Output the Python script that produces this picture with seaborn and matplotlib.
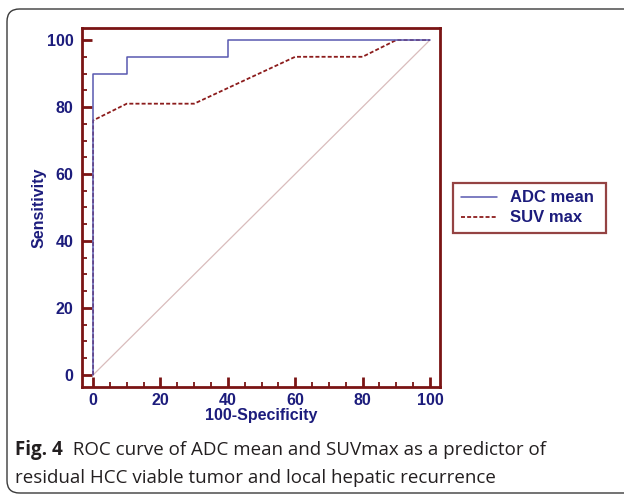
import numpy as np
import pandas as pd
import matplotlib
matplotlib.use('Agg')
import matplotlib.pyplot as plt
import seaborn as sns
from matplotlib.patches import FancyBboxPatch
from matplotlib.ticker import MultipleLocator

# ROC points (100-specificity, sensitivity)
adc_fpr = [0, 0, 10, 10, 40, 40, 100]
adc_sens = [0, 90, 90, 95, 95, 100, 100]
suv_fpr = [0, 0, 10, 30, 60, 80, 90, 100]
suv_sens = [0, 76, 81, 81, 95, 95, 100, 100]
ref_line = [0, 100]

series_names = ['ADC mean', 'SUV max']
caption_bold = 'Fig. 4'
caption_rest = '  ROC curve of ADC mean and SUVmax as a predictor of'
caption_line2 = 'residual HCC viable tumor and local hepatic recurrence'

axis_red = '#7a1414'
navy = '#1c1c7c'

sns.set_style('white')
plt.rcParams['font.family'] = ['Liberation Sans', 'DejaVu Sans']

fig = plt.figure(figsize=(6.24, 4.96), dpi=100)
W, H = 624, 496

# outer rounded frame of the figure panel
frame = FancyBboxPatch((7 / W, 3 / H), 640 / W, 484 / H,
                       boxstyle='round,pad=0,rounding_size=0.02',
                       transform=fig.transFigure, fill=False,
                       edgecolor='#3a3a3a', linewidth=1.0, mutation_aspect=W / H)
fig.patches.append(frame)

ax = fig.add_axes([82 / W, 109 / H, 358 / W, 359 / H])

sns.lineplot(x=ref_line, y=ref_line, ax=ax, color='#d9bcbc', linewidth=0.9,
             sort=False, estimator=None)
sns.lineplot(x=suv_fpr, y=suv_sens, ax=ax, color='#8c1c1c', linewidth=1.3,
             linestyle=(0, (2.2, 1.2)), sort=False, estimator=None,
             label=series_names[1])
sns.lineplot(x=adc_fpr, y=adc_sens, ax=ax, color='#5858b0', linewidth=1.1,
             sort=False, estimator=None, label=series_names[0])

ax.set_xlim(-3.3, 103.0)
ax.set_ylim(-3.6, 103.6)

for s in ax.spines.values():
    s.set_visible(True)
    s.set_color(axis_red)
    s.set_linewidth(2.0)

ax.xaxis.set_major_locator(MultipleLocator(20))
ax.yaxis.set_major_locator(MultipleLocator(20))
ax.xaxis.set_minor_locator(MultipleLocator(5))
ax.yaxis.set_minor_locator(MultipleLocator(5))
ax.tick_params(which='both', direction='in', color=axis_red,
               bottom=True, left=True, top=False, right=False)
ax.tick_params(which='major', length=7.5, width=2.0)
ax.tick_params(which='minor', length=3.8, width=1.3)
ax.tick_params(axis='y', which='major', pad=6)
ax.tick_params(axis='x', which='major', pad=4)
for lab in ax.get_xticklabels() + ax.get_yticklabels():
    lab.set_fontweight('bold')
    lab.set_fontsize(11.5)
    lab.set_color(navy)

ax.set_xlabel('100-Specificity', fontsize=11.5, fontweight='bold', color=navy, labelpad=0)
ax.set_ylabel('Sensitivity', fontsize=11.5, fontweight='bold', color=navy, labelpad=0)

handles, labels = ax.get_legend_handles_labels()
order = [labels.index(n) for n in series_names]
leg = ax.legend([handles[i] for i in order], [labels[i] for i in order],
                loc='upper left', bbox_to_anchor=(453 / W, 1 - 183 / H, 153 / W, 0),
                bbox_transform=fig.transFigure, frameon=True, fancybox=False,
                mode='expand', handlelength=2.2, handletextpad=0.8, borderpad=0.45,
                labelspacing=0.3, borderaxespad=0,
                prop={'weight': 'bold', 'size': 12})
leg.get_frame().set_edgecolor(axis_red)
leg.get_frame().set_linewidth(1.6)
for t in leg.get_texts():
    t.set_color(navy)

# caption under the chart
cap_y1 = 1 - 455 / H
cap_y2 = 1 - 483 / H
cap_font = ['Open Sans', 'DejaVu Sans']
t1 = fig.text(15 / W, cap_y1, caption_bold, fontsize=13.5, fontweight='bold',
              family=cap_font, color='#231f20', va='baseline')
fig.canvas.draw()
bb = t1.get_window_extent()
fig.text(bb.x1 / W, cap_y1, caption_rest, fontsize=13.5,
         family=cap_font, color='#231f20', va='baseline')
fig.text(15 / W, cap_y2, caption_line2, fontsize=13.5,
         family=cap_font, color='#231f20', va='baseline')

fig.savefig('out.png', dpi=100)
